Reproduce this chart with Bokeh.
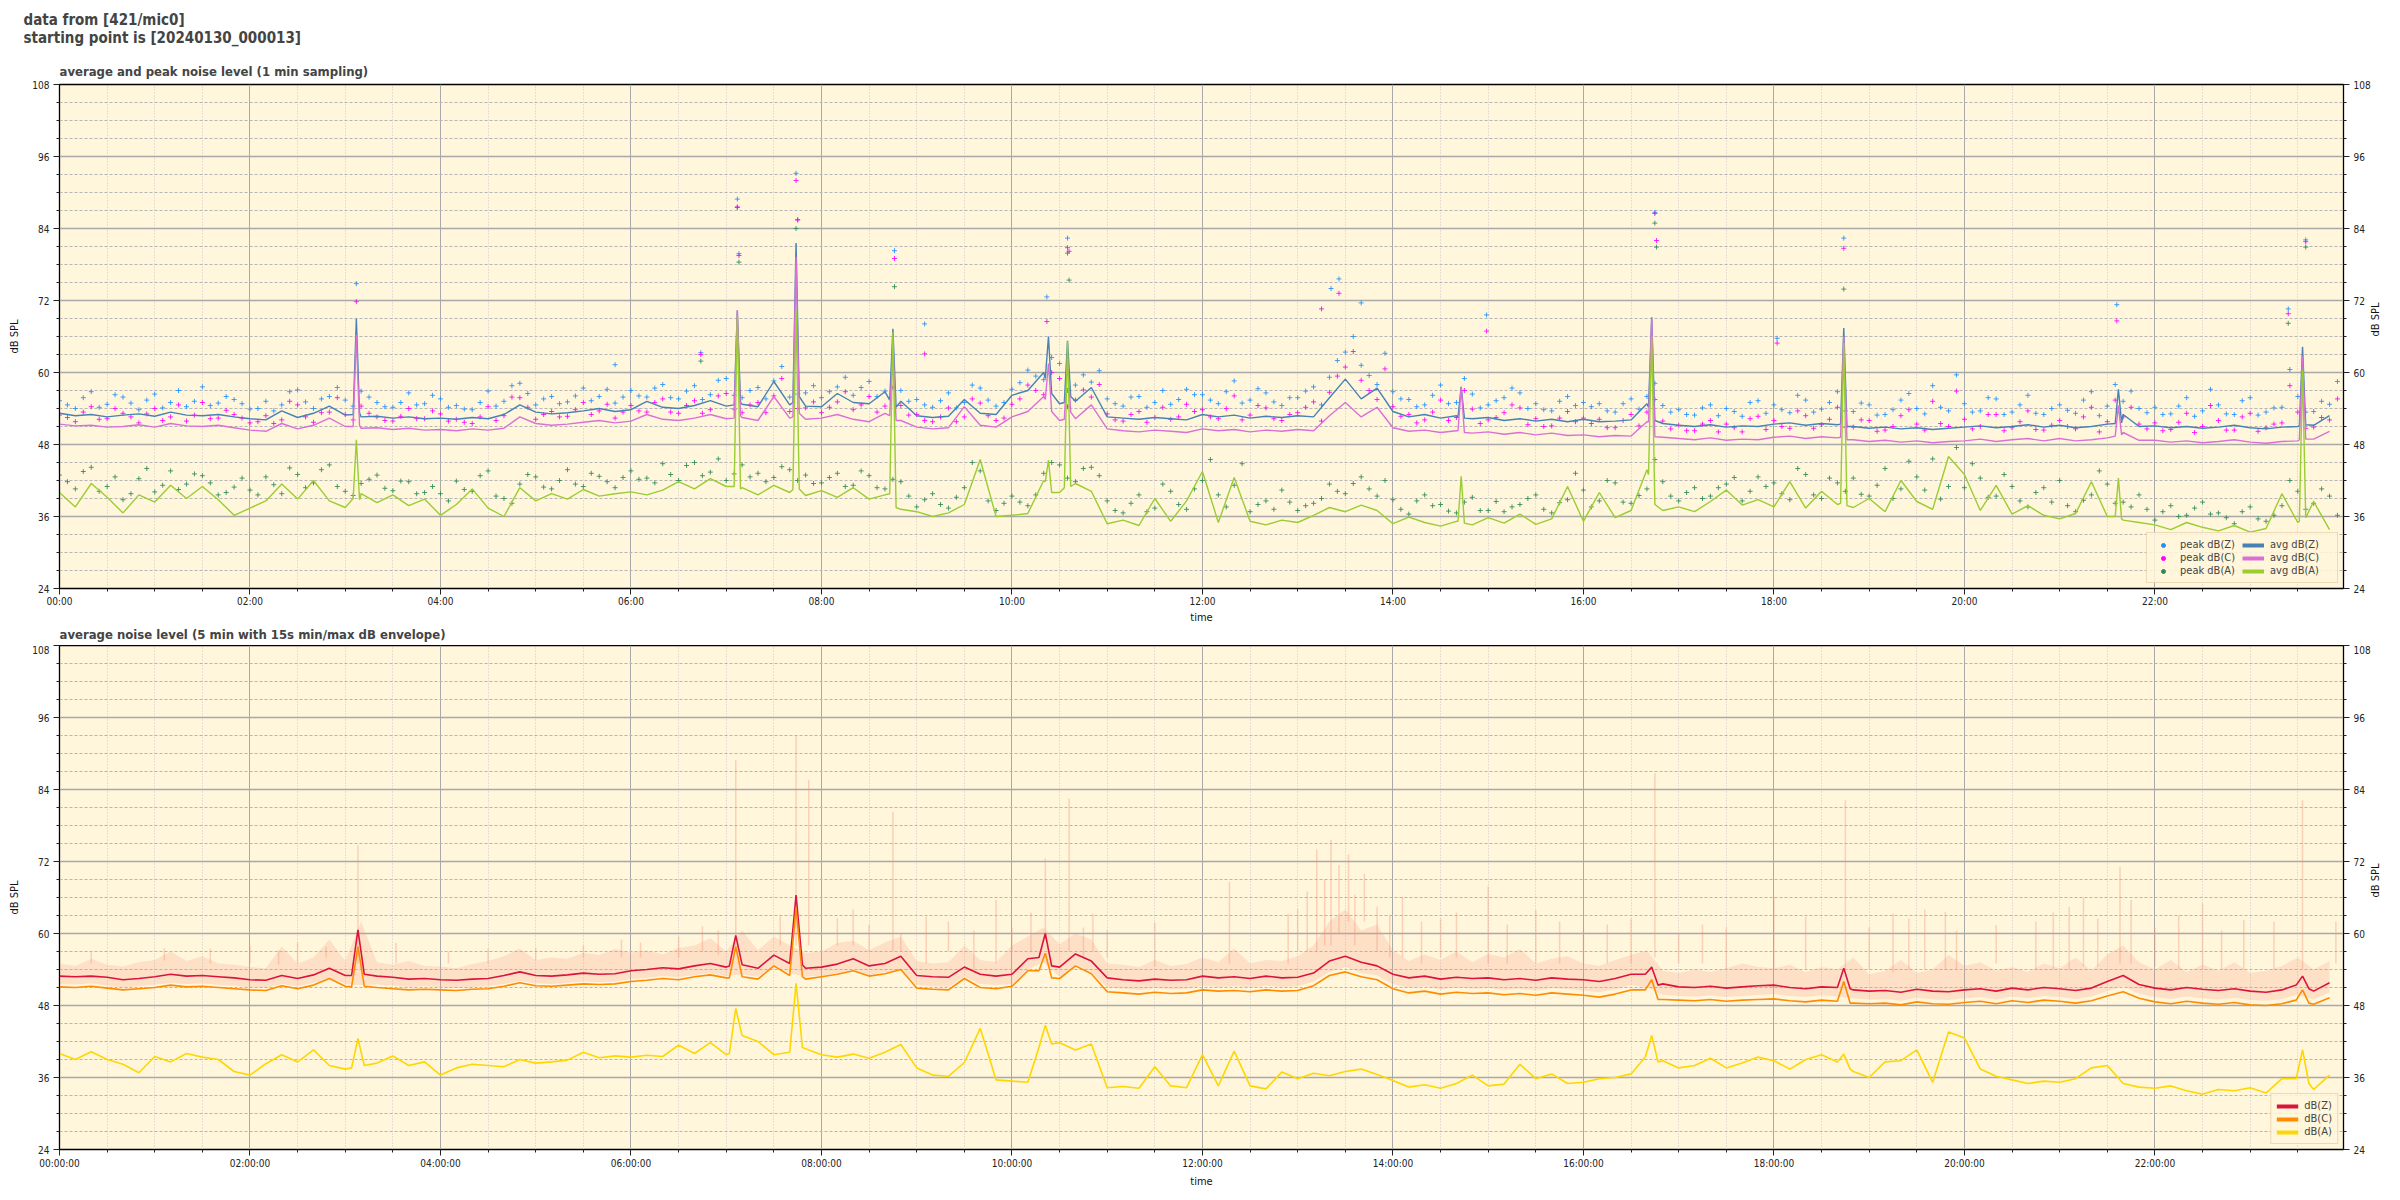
import math
from bokeh.plotting import figure
from bokeh.models import Range1d, FixedTicker, LinearAxis, Legend, LegendItem, Title
from bokeh.layouts import column
from bokeh.embed import file_html
from bokeh.resources import INLINE

# ---------------- data ----------------
title_main = "data from [421/mic0]\nstarting point is [20240130_000013]"
title_top = "average and peak noise level (1 min sampling)"
title_bot = "average noise level (5 min with 15s min/max dB envelope)"

x_major = [0, 2, 4, 6, 8, 10, 12, 14, 16, 18, 20, 22]
x_minor = [h / 2 for h in range(0, 48)]
x_labels_top = ["00:00", "02:00", "04:00", "06:00", "08:00", "10:00",
                "12:00", "14:00", "16:00", "18:00", "20:00", "22:00"]
x_labels_bot = ["00:00:00", "02:00:00", "04:00:00", "06:00:00", "08:00:00", "10:00:00",
                "12:00:00", "14:00:00", "16:00:00", "18:00:00", "20:00:00", "22:00:00"]
y_major = [24, 36, 48, 60, 72, 84, 96, 108]
y_minor = list(range(24, 109, 3))

# sampling times (minutes after start)
grid_min = list(range(0, 1440, 10))
peak_min = list(range(5, 1440, 10))

# top: 1-min averages (read every 10 min)
avg_z = [53.2, 52.8, 53.0, 52.6, 52.9, 53.1, 52.7, 53.4, 52.9, 52.8, 53.0, 52.6,
         52.3, 52.1, 53.6, 52.5, 53.2, 54.4, 52.9, 52.6, 52.7, 52.4, 52.6, 52.3,
         52.4, 52.2, 52.5, 52.3, 53.0, 54.6, 53.4, 53.1, 53.3, 53.6, 54.0, 53.5,
         53.8, 55.2, 54.2, 54.0, 54.5, 55.3, 54.4, 54.7, 54.3, 58.5, 54.6, 54.4,
         54.3, 56.5, 55.0, 54.8, 56.8, 55.2, 52.8, 52.5, 52.7, 55.5, 53.2, 53.0,
         56.2, 57.0, 60.0, 54.8, 55.2, 57.5, 52.6, 52.4, 52.2, 52.5, 52.3, 52.1,
         53.0, 52.6, 52.9, 52.4, 52.7, 52.5, 52.8, 52.6, 55.8, 58.9, 55.6, 57.4,
         53.5, 52.6, 53.0, 52.4, 52.8, 52.3, 52.5, 52.0, 52.3, 51.9, 52.2, 51.8,
         52.2, 51.8, 51.9, 52.1, 54.8, 51.5, 51.2, 51.0, 51.3, 50.9, 51.1, 51.0,
         51.4, 51.6, 51.2, 51.5, 51.3, 51.0, 50.7, 50.9, 50.6, 50.8, 50.5, 50.7,
         50.9, 51.1, 50.8, 51.0, 51.3, 50.9, 51.2, 50.8, 51.0, 51.4, 53.0, 51.0,
         51.1, 50.8, 51.0, 50.7, 50.9, 51.2, 50.8, 50.6, 50.9, 51.0, 51.2, 52.8]
avg_c = [51.4, 51.1, 51.2, 50.9, 51.0, 51.3, 50.9, 51.5, 51.1, 51.0, 51.2, 50.8,
         50.4, 50.2, 51.5, 50.6, 51.2, 52.4, 51.0, 50.7, 50.8, 50.5, 50.7, 50.4,
         50.5, 50.3, 50.6, 50.4, 50.7, 52.6, 51.5, 51.2, 51.4, 51.7, 52.0, 51.6,
         51.9, 53.0, 52.2, 52.0, 52.4, 53.0, 52.3, 52.5, 52.0, 56.0, 52.4, 52.2,
         52.4, 53.0, 52.2, 51.8, 53.2, 52.0, 50.9, 50.6, 50.8, 54.3, 51.2, 50.9,
         52.6, 53.5, 56.0, 52.0, 52.3, 54.6, 50.6, 50.3, 50.1, 50.4, 50.2, 50.0,
         50.6, 50.3, 50.5, 50.1, 50.4, 50.2, 50.5, 50.3, 52.8, 55.0, 52.6, 54.2,
         50.8, 50.2, 50.4, 50.0, 50.3, 49.9, 50.1, 49.7, 50.0, 49.6, 49.9, 49.5,
         49.6, 49.3, 49.5, 49.4, 51.8, 49.2, 49.0, 48.8, 49.1, 48.7, 48.9, 48.8,
         49.2, 49.4, 49.0, 49.3, 49.1, 48.8, 48.5, 48.7, 48.4, 48.6, 48.3, 48.5,
         48.6, 48.9, 48.5, 48.8, 49.0, 48.6, 49.0, 48.6, 48.8, 49.1, 50.0, 48.7,
         48.7, 48.4, 48.6, 48.3, 48.5, 48.8, 48.4, 48.2, 48.5, 48.6, 48.9, 50.2]
avg_a = [40.0, 37.6, 41.5, 39.2, 36.6, 39.6, 38.4, 41.2, 39.0, 41.0, 38.8, 36.2,
         37.4, 38.6, 41.4, 38.9, 42.0, 38.6, 37.5, 39.8, 38.3, 39.6, 37.8, 38.9,
         36.2, 38.0, 40.6, 37.4, 36.0, 40.8, 38.6, 39.8, 38.9, 40.5, 39.4, 39.8,
         40.1, 39.6, 40.4, 41.8, 40.6, 42.3, 41.0, 40.8, 39.6, 41.2, 40.0, 39.5,
         40.3, 39.2, 40.8, 38.9, 39.6, 37.2, 36.8, 36.0, 36.6, 38.0, 45.5, 36.0,
         36.2, 36.5, 42.0, 40.0, 41.5, 40.2, 34.8, 35.4, 34.5, 39.0, 35.2, 38.6,
         43.5, 35.0, 42.5, 35.2, 34.6, 35.4, 35.0, 36.2, 37.5, 36.8, 37.9, 37.0,
         34.8, 35.9, 35.0, 34.4, 35.2, 34.6, 35.8, 34.9, 36.4, 34.7, 35.6, 41.0,
         35.2, 40.0, 35.8, 37.0, 43.8, 37.0, 37.6, 36.8, 38.5, 40.4, 37.9, 38.8,
         37.6, 41.8, 37.4, 40.2, 38.0, 37.5, 39.0, 36.8, 42.0, 38.5, 37.2, 46.0,
         43.0, 37.0, 41.2, 36.4, 37.8, 36.2, 35.6, 36.5, 41.8, 36.0, 35.4, 35.0,
         34.6, 33.8, 35.0, 34.2, 33.6, 34.5, 33.4, 34.0, 39.8, 35.0, 38.5, 33.8]

# top: short events (before, peak, after)
spk_min = [185, 187, 189, 425, 427, 429, 462, 464, 466, 523, 525, 527,
           621, 623, 625, 633, 635, 637, 881, 883, 885, 1001, 1003, 1005,
           1122, 1124, 1126, 1295, 1297, 1299, 1411, 1413, 1415]
spk_z = [53.0, 69.0, 53.3, 54.6, 70.3, 55.0, 55.0, 81.6, 56.0, 55.4, 67.3, 54.2,
         59.0, 66.0, 56.5, 55.0, 65.3, 56.0, 52.6, 57.6, 52.4, 54.2, 69.2, 52.0,
         51.4, 67.4, 51.0, 51.5, 57.2, 51.6, 51.1, 64.3, 51.3]
spk_c = [51.0, 66.3, 51.2, 52.4, 70.4, 52.8, 52.6, 79.3, 53.2, 52.8, 64.3, 52.0,
         55.5, 61.5, 53.5, 52.2, 62.4, 53.4, 50.3, 57.6, 50.0, 51.8, 69.0, 49.3,
         49.2, 66.0, 48.8, 49.4, 54.5, 49.6, 48.8, 62.7, 48.9]
spk_a = [39.0, 48.8, 38.8, 41.0, 69.5, 40.6, 40.5, 70.4, 40.6, 39.8, 66.7, 37.5,
         41.8, 45.4, 40.0, 40.8, 65.2, 41.0, 35.2, 42.7, 34.9, 43.0, 66.0, 38.0,
         38.2, 64.9, 37.8, 36.0, 42.4, 35.6, 35.2, 60.4, 35.8]

# top: 1-min peaks (read every 5 min: first set at :05, second set at :00)
peak_z = [54.6, 55.8, 54.2, 56.3, 54.9, 55.4, 54.1, 57.0, 55.2, 54.5, 56.0, 54.8,
          54.0, 53.6, 56.8, 55.1, 55.6, 57.5, 54.4, 55.9, 54.3, 55.0, 54.6, 56.2,
          54.2, 53.9, 55.0, 54.4, 57.8, 56.5, 55.6, 54.8, 56.1, 55.3, 57.2, 55.9,
          56.1, 57.4, 55.8, 56.9, 55.5, 58.7, 56.2, 57.0, 55.6, 61.0, 56.4, 57.8,
          56.8, 59.2, 57.5, 56.0, 60.0, 55.2, 54.6, 55.3, 54.1, 57.9, 55.4, 55.0,
          58.3, 59.4, 62.5, 57.0, 59.6, 60.3, 54.8, 55.9, 54.2, 57.0, 55.5, 56.3,
          55.4, 56.8, 54.9, 57.3, 55.1, 55.8, 56.9, 54.6, 62.0, 66.0, 59.5, 63.2,
          55.6, 54.3, 56.2, 54.8, 59.0, 54.1, 55.3, 57.4, 54.0, 53.8, 55.2, 54.5,
          54.3, 53.6, 54.8, 53.9, 58.2, 53.4, 53.0, 54.1, 52.8, 53.5, 55.0, 53.2,
          53.8, 56.2, 53.4, 55.0, 53.6, 54.9, 52.9, 53.8, 56.5, 53.1, 54.2, 59.6,
          53.4, 55.8, 53.0, 54.6, 53.2, 54.0, 53.7, 55.4, 52.8, 58.0, 56.9, 53.3,
          53.0, 54.4, 52.7, 57.2, 53.1, 55.3, 52.9, 54.1, 60.5, 53.4, 55.2, 58.5]
peak_c = [52.5, 53.4, 52.2, 54.0, 52.6, 53.1, 52.0, 54.6, 52.9, 52.3, 53.7, 52.4,
          51.8, 51.5, 55.2, 52.6, 53.3, 55.8, 52.1, 53.2, 52.0, 52.7, 52.3, 53.6,
          51.9, 51.7, 52.6, 52.0, 55.9, 54.2, 53.0, 52.6, 53.8, 53.0, 54.7, 53.4,
          53.6, 55.0, 53.4, 54.5, 53.2, 56.1, 53.9, 54.6, 53.3, 59.0, 54.0, 55.1,
          54.2, 56.8, 54.6, 53.4, 57.5, 52.9, 52.0, 52.6, 51.8, 55.6, 52.8, 52.4,
          55.6, 57.0, 60.0, 54.3, 57.1, 58.0, 52.1, 53.0, 51.7, 54.2, 52.6, 53.5,
          52.6, 54.0, 52.1, 54.5, 52.3, 53.0, 54.2, 51.9, 59.4, 63.5, 57.0, 60.6,
          52.7, 51.6, 53.4, 52.0, 57.0, 51.5, 52.5, 54.6, 51.3, 51.0, 52.4, 51.8,
          51.5, 50.8, 52.0, 51.1, 55.5, 50.6, 50.3, 51.4, 50.1, 50.8, 52.3, 50.5,
          51.0, 53.6, 50.7, 52.2, 50.9, 52.1, 50.2, 51.0, 53.8, 50.4, 51.5, 56.9,
          50.6, 53.0, 50.3, 51.8, 50.5, 51.2, 51.0, 52.6, 50.1, 55.4, 54.2, 50.6,
          50.3, 51.7, 50.0, 54.5, 50.4, 52.6, 50.2, 51.4, 57.8, 50.7, 52.5, 55.6]
peak_a = [41.8, 43.5, 40.2, 42.6, 39.8, 44.0, 41.2, 40.5, 43.1, 41.6, 40.0, 42.4,
          39.6, 41.3, 44.1, 40.8, 43.8, 41.0, 39.5, 42.2, 40.7, 41.9, 39.8, 41.0,
          38.6, 40.5, 42.8, 39.4, 38.2, 43.0, 40.9, 42.0, 41.4, 43.2, 41.8, 42.5,
          42.2, 41.6, 43.0, 44.5, 42.8, 45.6, 43.1, 42.6, 41.8, 44.3, 42.0, 41.5,
          42.5, 41.0, 43.6, 40.8, 42.2, 39.4, 38.8, 38.0, 39.2, 45.0, 38.6, 38.2,
          38.4, 39.6, 45.0, 42.4, 44.0, 42.8, 37.0, 38.2, 36.8, 41.4, 38.0, 40.6,
          45.5, 37.6, 44.8, 38.0, 37.2, 38.4, 37.8, 39.0, 40.2, 41.5, 40.6, 42.0,
          37.2, 38.6, 37.8, 36.9, 38.4, 37.0, 38.5, 37.6, 39.0, 37.2, 38.3, 43.2,
          37.6, 42.0, 38.4, 39.5, 45.5, 39.4, 40.0, 39.0, 40.8, 42.5, 40.2, 41.0,
          39.8, 44.0, 39.6, 42.4, 40.2, 39.7, 41.2, 39.0, 45.2, 40.4, 38.9, 47.5,
          44.8, 39.2, 43.0, 38.6, 40.0, 38.4, 37.8, 38.7, 43.6, 38.2, 37.6, 37.2,
          36.8, 36.0, 37.4, 36.4, 35.8, 36.8, 35.6, 36.2, 42.0, 37.2, 40.6, 36.2]
peak_z2 = [55.3, 54.0, 56.8, 54.7, 55.9, 53.8, 56.4, 55.0, 54.3, 57.6, 54.9, 55.5,
           53.9, 55.2, 54.6, 57.1, 54.0, 56.0, 55.4, 56.9, 55.0, 54.2, 56.6, 54.8,
           55.6, 54.5, 53.8, 56.9, 55.2, 58.2, 54.6, 56.0, 55.1, 57.4, 56.0, 54.9,
           57.0, 55.9, 58.0, 55.6, 57.8, 56.3, 59.0, 55.8, 57.5, 58.6, 55.9, 56.6,
           55.8, 57.6, 56.2, 58.5, 56.9, 57.0, 55.5, 54.2, 56.6, 55.0, 57.4, 54.4,
           57.2, 60.4, 58.8, 61.5, 57.9, 58.4, 55.6, 54.4, 56.0, 55.0, 54.7, 57.2,
           56.3, 54.8, 58.6, 55.4, 56.6, 54.5, 55.8, 57.6, 59.2, 63.4, 61.2, 58.0,
           56.8, 55.5, 54.6, 57.9, 55.0, 56.4, 54.6, 55.8, 56.6, 54.8, 53.6, 56.0,
           55.0, 54.8, 53.4, 55.6, 56.0, 54.5, 53.8, 52.9, 54.6, 54.0, 52.7, 55.3,
           54.6, 53.3, 55.4, 53.9, 56.8, 53.5, 54.6, 53.0, 55.4, 54.0, 57.8, 53.6,
           54.8, 53.6, 55.6, 53.4, 56.2, 53.0, 54.6, 53.2, 56.8, 54.4, 55.2, 54.0,
           54.2, 53.1, 55.8, 53.6, 54.6, 53.0, 55.8, 53.4, 54.2, 56.0, 53.5, 54.7]
peak_c2 = [52.9, 51.8, 54.3, 52.3, 53.2, 51.6, 54.0, 52.6, 51.9, 55.0, 52.4, 53.0,
           51.6, 52.8, 52.1, 54.6, 51.7, 53.4, 53.0, 54.4, 52.6, 51.9, 54.0, 52.3,
           53.1, 52.2, 51.5, 54.3, 52.8, 55.8, 52.2, 53.5, 52.7, 55.0, 53.6, 52.4,
           54.5, 53.4, 55.6, 53.2, 55.3, 53.8, 56.5, 53.3, 55.0, 56.1, 53.5, 54.1,
           53.3, 55.1, 53.8, 56.0, 54.4, 54.5, 53.0, 51.8, 54.1, 52.6, 54.9, 52.0,
           54.7, 57.9, 56.3, 59.0, 55.4, 55.9, 53.1, 51.9, 53.5, 52.5, 52.2, 54.7,
           53.8, 52.3, 56.1, 52.9, 54.1, 52.0, 53.3, 55.1, 56.7, 60.9, 58.7, 55.5,
           54.3, 53.0, 52.1, 55.4, 52.5, 53.9, 52.1, 53.3, 54.1, 52.3, 51.1, 53.5,
           52.4, 52.2, 50.8, 53.0, 53.4, 51.9, 51.2, 50.3, 52.0, 51.4, 50.1, 52.7,
           52.0, 50.7, 52.8, 51.3, 54.2, 50.9, 52.0, 50.4, 52.8, 51.4, 55.2, 51.0,
           52.2, 51.0, 53.0, 50.8, 53.6, 50.4, 52.0, 50.6, 54.2, 51.8, 52.6, 51.4,
           51.6, 50.5, 53.2, 51.0, 52.0, 50.4, 53.2, 50.8, 51.6, 53.4, 50.9, 52.1]
peak_a2 = [42.9, 40.6, 44.2, 41.0, 38.8, 42.3, 40.1, 43.6, 41.4, 42.8, 39.6, 40.9,
           40.4, 42.6, 39.8, 43.0, 41.6, 44.6, 40.2, 41.5, 42.9, 40.3, 41.8, 40.0,
           39.8, 41.9, 40.2, 43.6, 39.0, 41.4, 42.6, 40.6, 43.8, 41.0, 42.7, 40.8,
           43.6, 42.4, 44.8, 42.0, 45.0, 43.4, 42.0, 44.6, 43.2, 42.5, 43.8, 42.9,
           41.6, 43.2, 41.2, 42.8, 40.6, 41.8, 37.6, 39.8, 37.4, 40.8, 43.6, 37.0,
           39.4, 37.8, 43.2, 44.6, 41.8, 44.2, 38.6, 36.6, 39.6, 37.4, 40.2, 37.2,
           42.0, 39.6, 41.2, 36.8, 38.6, 40.4, 37.0, 38.2, 41.4, 39.8, 42.6, 39.4,
           38.8, 36.4, 39.6, 38.0, 36.6, 39.2, 37.0, 36.8, 38.0, 39.6, 36.6, 38.8,
           40.4, 38.6, 41.6, 38.2, 40.6, 41.8, 38.6, 40.8, 39.4, 41.4, 38.6, 42.6,
           41.6, 38.8, 43.0, 39.0, 41.6, 42.4, 39.4, 44.0, 40.6, 42.6, 45.6, 41.0,
           40.8, 42.4, 39.4, 41.0, 37.6, 40.8, 42.0, 36.8, 39.6, 41.4, 38.4, 39.6,
           35.4, 37.8, 36.2, 38.4, 36.6, 34.8, 37.6, 35.2, 37.8, 40.2, 38.2, 39.4]

# top: isolated high peaks
out_z_min = [187, 350, 404, 427, 428, 464, 465, 526, 545, 622, 635, 801, 806, 820,
             899, 1005, 1082, 1124, 1296, 1404, 1415]
out_z = [74.8, 61.3, 63.3, 88.9, 79.8, 93.2, 85.5, 80.3, 68.1, 72.6, 82.4, 74.0, 75.6, 71.6,
         69.6, 86.7, 65.7, 82.4, 71.3, 70.6, 82.1]
out_c_min = [187, 404, 427, 428, 464, 465, 526, 545, 622, 635, 636, 795, 806, 899,
             1005, 1006, 1082, 1124, 1296, 1404, 1415]
out_c = [71.8, 63.0, 87.6, 79.5, 92.0, 85.4, 79.0, 63.1, 68.5, 80.8, 80.2, 70.6, 73.2, 66.9,
         86.5, 82.0, 64.9, 80.7, 68.6, 69.8, 81.8]
out_a_min = [404, 427, 428, 464, 526, 635, 636, 1005, 1006, 1124, 1404, 1415]
out_a = [61.9, 87.5, 78.4, 84.0, 74.3, 79.9, 75.4, 84.9, 80.9, 73.9, 68.2, 80.9]

# bottom: 5-min averages (read every 10 min)
bot_z = [52.9, 52.8, 52.9, 52.7, 52.3, 52.5, 52.8, 53.2, 52.9, 53.0, 52.8, 52.6,
         52.3, 52.2, 53.0, 52.5, 53.1, 54.2, 53.0, 52.8, 52.9, 52.7, 52.4, 52.5,
         52.3, 52.2, 52.4, 52.5, 53.0, 53.6, 53.0, 52.9, 53.1, 53.4, 53.2, 53.3,
         53.8, 54.0, 54.3, 54.1, 54.6, 55.0, 54.4, 54.8, 54.2, 56.4, 55.0, 54.2,
         54.4, 54.9, 55.8, 54.6, 55.0, 56.2, 53.0, 52.8, 52.7, 54.4, 53.2, 52.9,
         53.2, 55.8, 57.0, 54.4, 56.6, 55.4, 52.6, 52.3, 52.1, 52.4, 52.2, 52.3,
         52.9, 52.6, 52.8, 52.5, 52.9, 52.6, 52.7, 53.4, 55.4, 56.2, 55.2, 54.6,
         53.2, 52.6, 52.9, 52.4, 52.7, 52.5, 52.6, 52.3, 52.5, 52.2, 52.6, 52.4,
         52.3, 52.0, 52.5, 53.2, 52.8, 51.6, 51.1, 51.0, 51.2, 50.9, 51.1, 51.3,
         51.4, 51.0, 50.8, 51.1, 50.9, 50.6, 50.4, 50.5, 50.2, 50.7, 50.4, 50.3,
         50.6, 50.8, 50.4, 50.9, 50.6, 51.0, 50.8, 50.5, 50.9, 52.0, 53.0, 51.5,
         50.9, 50.6, 51.0, 50.7, 50.5, 50.8, 50.4, 50.2, 50.6, 51.5, 50.4, 51.8]
bot_c = [51.1, 51.0, 51.2, 50.9, 50.6, 50.8, 51.0, 51.4, 51.1, 51.2, 51.0, 50.8,
         50.6, 50.5, 51.3, 50.8, 51.4, 52.5, 51.2, 51.0, 51.0, 50.8, 50.6, 50.7,
         50.6, 50.5, 50.7, 50.8, 51.2, 51.8, 51.3, 51.2, 51.4, 51.6, 51.5, 51.6,
         52.0, 52.2, 52.5, 52.3, 52.8, 53.1, 52.6, 52.9, 52.4, 54.6, 53.1, 52.4,
         52.8, 53.2, 53.8, 52.9, 53.3, 54.0, 50.9, 50.7, 50.6, 52.5, 51.0, 50.8,
         51.2, 53.8, 55.2, 52.5, 54.6, 53.3, 50.3, 50.1, 49.9, 50.2, 50.0, 50.1,
         50.6, 50.4, 50.5, 50.3, 50.6, 50.4, 50.5, 51.3, 53.0, 53.6, 52.8, 52.3,
         50.8, 50.1, 50.4, 49.9, 50.2, 50.0, 50.1, 49.8, 50.0, 49.7, 50.1, 49.9,
         49.7, 49.4, 49.9, 50.6, 50.3, 49.0, 48.9, 48.8, 49.0, 48.7, 48.9, 49.0,
         49.1, 48.8, 48.6, 48.9, 48.7, 48.4, 48.3, 48.4, 48.1, 48.6, 48.3, 48.2,
         48.5, 48.7, 48.3, 48.8, 48.5, 48.9, 48.7, 48.4, 48.8, 49.6, 50.3, 49.2,
         48.6, 48.3, 48.7, 48.4, 48.2, 48.5, 48.1, 48.0, 48.3, 48.9, 48.2, 49.3]
bot_a = [40.0, 39.0, 40.3, 39.0, 38.2, 36.8, 39.5, 38.6, 40.0, 39.4, 39.0, 37.0,
         36.4, 38.3, 39.8, 38.6, 40.6, 38.0, 37.4, 42.2, 38.4, 39.6, 38.0, 38.6,
         36.4, 37.6, 38.2, 38.0, 37.8, 39.0, 38.4, 38.6, 38.9, 40.2, 39.3, 39.6,
         39.4, 39.7, 39.5, 41.4, 40.0, 41.8, 39.8, 42.4, 42.0, 39.8, 40.2, 40.8,
         39.8, 39.4, 39.9, 39.2, 40.2, 41.5, 37.6, 36.4, 36.2, 38.5, 44.2, 35.6,
         35.4, 35.2, 41.0, 41.8, 40.6, 41.6, 34.3, 34.5, 34.2, 37.8, 34.6, 34.3,
         39.8, 34.6, 40.4, 34.6, 34.1, 36.9, 35.8, 36.7, 36.3, 37.0, 37.4, 36.5,
         35.5, 34.4, 34.8, 34.2, 35.0, 36.4, 34.6, 34.9, 38.2, 35.8, 36.6, 35.0,
         35.2, 35.8, 36.0, 36.6, 42.6, 38.8, 37.6, 38.0, 39.2, 37.6, 38.4, 39.4,
         38.8, 37.4, 39.0, 39.8, 38.6, 37.0, 36.0, 38.6, 38.8, 40.6, 35.2, 43.6,
         42.6, 37.4, 36.2, 35.6, 35.0, 35.4, 35.2, 35.8, 37.6, 38.0, 35.0, 34.4,
         34.2, 34.6, 33.8, 33.2, 34.0, 33.8, 34.3, 33.4, 35.8, 38.8, 34.0, 36.4]

bspk_min = [184, 188, 192, 422, 426, 430, 460, 464, 468, 617, 621, 625,
            999, 1003, 1007, 1120, 1124, 1128, 1409, 1413, 1417]
bspk_z = [53.0, 60.6, 53.2, 54.6, 59.7, 54.8, 55.0, 66.4, 54.8, 56.0, 60.0, 54.6,
          53.2, 54.4, 51.4, 51.0, 54.2, 50.8, 51.4, 52.9, 50.8]
bspk_c = [51.1, 57.8, 51.2, 52.6, 57.8, 52.8, 53.0, 64.2, 52.8, 53.8, 56.7, 52.6,
          50.6, 52.3, 49.0, 48.7, 52.0, 48.4, 48.9, 50.6, 48.4]
bspk_a = [37.6, 42.5, 38.0, 40.0, 47.5, 43.0, 40.2, 51.7, 41.0, 41.0, 44.7, 41.6,
          39.4, 43.0, 38.6, 38.6, 39.9, 37.4, 35.8, 40.6, 35.0]

# bottom: 15 s min/max envelope (read every 10 min)
env_hi = [55.0, 54.6, 55.8, 54.8, 54.5, 55.2, 55.6, 57.0, 55.4, 56.2, 55.0, 54.8,
          54.4, 54.2, 57.8, 55.0, 56.0, 59.0, 55.4, 62.0, 55.2, 54.8, 55.4, 54.6,
          54.5, 54.2, 54.9, 55.4, 56.2, 57.5, 55.6, 56.0, 55.8, 56.8, 56.4, 57.4,
          56.8, 57.2, 56.5, 57.6, 58.0, 59.2, 57.0, 60.5, 57.2, 59.5, 58.0, 56.8,
          57.0, 58.4, 58.8, 57.2, 58.5, 59.5, 55.4, 55.0, 55.2, 58.0, 55.6, 55.2,
          58.0, 59.5, 61.0, 58.2, 60.0, 59.0, 55.0, 54.8, 54.4, 55.6, 54.6, 54.9,
          56.0, 55.2, 57.5, 55.0, 55.6, 55.4, 56.2, 58.0, 62.0, 64.0, 60.5, 61.5,
          57.2, 55.4, 56.5, 55.6, 57.0, 55.2, 56.6, 56.0, 57.4, 55.0, 55.8, 56.2,
          55.0, 54.6, 55.6, 56.4, 57.2, 53.8, 53.4, 54.0, 53.6, 54.2, 55.0, 54.4,
          54.2, 54.8, 53.6, 54.4, 54.0, 56.0, 53.2, 53.8, 55.6, 53.4, 54.0, 56.4,
          54.6, 55.2, 53.8, 54.4, 53.6, 55.0, 54.2, 56.0, 53.8, 56.5, 58.0, 55.2,
          54.0, 55.6, 53.6, 54.8, 53.8, 55.2, 53.4, 53.8, 54.6, 56.0, 54.0, 55.4]
env_lo = [51.6, 51.5, 51.7, 51.3, 51.0, 51.2, 51.5, 51.8, 51.6, 51.7, 51.4, 51.3,
          51.0, 50.9, 51.6, 51.2, 51.8, 52.6, 51.6, 51.4, 51.5, 51.3, 51.1, 51.2,
          51.0, 50.9, 51.1, 51.2, 51.6, 52.1, 51.7, 51.6, 51.8, 52.0, 51.9, 52.0,
          52.4, 52.6, 52.9, 52.7, 53.1, 53.4, 52.9, 53.2, 52.8, 54.6, 53.4, 52.8,
          53.0, 53.4, 54.0, 53.1, 53.6, 54.0, 51.4, 51.2, 51.1, 52.8, 51.6, 51.4,
          51.6, 54.0, 55.2, 52.8, 54.8, 53.6, 51.0, 50.8, 50.6, 50.9, 50.7, 50.8,
          51.3, 51.1, 51.2, 51.0, 51.3, 51.1, 51.2, 52.0, 53.6, 54.4, 53.4, 53.0,
          51.6, 50.9, 51.2, 50.7, 51.0, 50.8, 50.9, 50.6, 50.8, 50.5, 50.9, 50.7,
          50.5, 50.2, 50.7, 51.4, 51.0, 49.8, 49.6, 49.5, 49.7, 49.4, 49.6, 49.8,
          49.9, 49.6, 49.4, 49.7, 49.5, 49.2, 49.0, 49.1, 48.8, 49.3, 49.0, 48.9,
          49.2, 49.4, 49.0, 49.5, 49.2, 49.6, 49.4, 49.1, 49.5, 50.4, 51.2, 50.0,
          49.4, 49.1, 49.5, 49.2, 49.0, 49.3, 48.9, 48.8, 49.1, 49.8, 49.0, 50.2]
env_sp_min = [66, 120, 138, 168, 188, 212, 300, 354, 366, 405, 426, 454, 464, 472, 490,
              500, 525, 546, 576, 590, 621, 636, 651, 690, 737, 774, 792, 801, 806, 812,
              822, 846, 858, 900, 930, 990, 1005, 1050, 1080, 1100, 1125, 1155, 1188, 1220,
              1266, 1298, 1305, 1350, 1376, 1413, 1434,
              20, 95, 150, 245, 270, 330, 390, 415, 510, 530, 560, 600, 612, 645, 660,
              780, 786, 797, 816, 830, 838, 870, 880, 912, 945, 960, 975, 1020, 1035,
              1140, 1165, 1175, 1195, 1245, 1256, 1275, 1284, 1320, 1335, 1362, 1395]
env_sp_top = [57.5, 58.0, 57.2, 57.8, 74.7, 58.4, 57.6, 59.0, 58.5, 61.2, 88.9, 63.0, 93.1, 85.6, 62.5,
              64.0, 80.3, 62.8, 60.5, 65.6, 72.5, 82.5, 63.3, 61.8, 68.6, 63.3, 74.0, 75.6, 71.4, 73.2,
              70.0, 66.1, 62.0, 67.8, 63.9, 62.5, 86.7, 61.0, 66.1, 62.8, 82.2, 63.3, 63.6, 61.4,
              64.4, 71.1, 65.6, 65.0, 62.2, 82.2, 62.0,
              57.0, 57.5, 58.5, 57.0, 57.5, 58.0, 59.5, 60.5, 61.5, 60.0, 62.0, 61.0, 63.5, 61.0, 60.5,
              64.0, 67.0, 69.0, 66.5, 64.5, 63.0, 62.5, 63.5, 61.5, 62.0, 60.5, 61.5, 60.0, 61.5,
              61.0, 62.5, 64.0, 60.5, 62.0, 63.5, 66.0, 62.5, 61.0, 63.0, 60.5, 62.0]
env_sp_base = [55.5, 55.0, 54.8, 56.0, 55.0, 55.0, 55.5, 56.0, 56.0, 57.0, 57.0, 58.0, 58.0, 58.0, 58.0,
               58.0, 57.0, 55.0, 54.0, 55.0, 59.0, 57.0, 57.0, 54.5, 55.0, 55.0, 57.0, 58.0, 60.0, 62.0,
               62.0, 56.0, 55.0, 55.0, 55.0, 55.0, 56.0, 54.0, 54.0, 54.0, 54.0, 53.5, 54.0, 55.0,
               54.0, 55.0, 55.0, 54.0, 54.0, 54.0, 55.0,
               55.0, 55.0, 55.0, 55.0, 55.0, 56.0, 56.0, 56.5, 57.0, 57.0, 57.0, 57.0, 57.0, 56.0, 56.0,
               57.0, 57.0, 58.0, 58.0, 57.0, 56.0, 56.0, 56.0, 55.0, 55.0, 55.0, 55.0, 55.0, 55.0,
               54.0, 54.0, 54.0, 54.0, 54.0, 54.0, 54.5, 54.5, 54.5, 54.0, 54.0, 54.0]

# ---------------- styling ----------------
FONT = "'Liberation Sans Narrow', 'DejaVu Sans Condensed', 'DejaVu Sans', sans-serif"
BG = "#fff6dc"
W = 2400
NAN = float("nan")
C_PZ, C_PC, C_PA = "#1e90ff", "#ff00ff", "#2e8b57"
C_AZ, C_AC, C_AA = "#4682b4", "#da70d6", "#9acd32"
C_BZ, C_BC, C_BA = "#dc143c", "#ff8c00", "#ffd700"
ENV = "#f4937a"


def hours(mins):
    return [m / 60 for m in mins]


def merged(g_t, g_v, s_t, s_v):
    wins = [(s_t[i], s_t[i + 2]) for i in range(0, len(s_t), 3)]
    pts = [(t, v) for t, v in zip(g_t, g_v) if not any(a <= t <= b for a, b in wins)]
    pts += list(zip(s_t, s_v))
    pts.sort()
    return [t / 60 for t, _ in pts], [v for _, v in pts]


def make_fig(height, top, bottom, xlabels, tick_so, lab_so):
    p = figure(width=W, height=height, x_range=Range1d(0, 23.98), y_range=Range1d(24, 108),
               output_backend="svg", toolbar_location=None,
               min_border_left=59, min_border_right=57, min_border_top=top, min_border_bottom=bottom,
               background_fill_color=BG, border_fill_color="white",
               outline_line_color="black", outline_line_width=1.3)
    xt = FixedTicker(ticks=x_major, minor_ticks=x_minor)
    yt = FixedTicker(ticks=y_major, minor_ticks=y_minor)
    p.xaxis.ticker = xt
    p.yaxis.ticker = yt
    p.xgrid.ticker = xt
    p.ygrid.ticker = yt
    p.xaxis.major_label_overrides = {t: s for t, s in zip(x_major, xlabels)}
    p.xaxis.axis_label = "time"
    p.yaxis.axis_label = "dB SPL"
    ry = LinearAxis(ticker=yt, axis_label="dB SPL")
    p.add_layout(ry, "right")
    for ax in p.xaxis + p.yaxis + [ry]:
        ax.major_tick_out = 6
        ax.major_tick_in = 0
        ax.minor_tick_out = 3
        ax.minor_tick_in = 0
        ax.major_tick_line_color = "#222222"
        ax.minor_tick_line_color = "#222222"
        ax.axis_line_color = "black"
        ax.major_label_text_font = FONT
        ax.major_label_text_font_size = "10px"
        ax.major_label_text_color = "#222222"
        ax.axis_label_text_font = FONT
        ax.axis_label_text_font_size = "11px"
        ax.axis_label_text_font_style = "normal"
        ax.axis_label_text_color = "#111111"
    for ax in p.xaxis:
        ax.major_label_standoff = tick_so
        ax.axis_label_standoff = lab_so
    for ax in p.yaxis:
        ax.major_label_standoff = 4
        ax.axis_label_standoff = 8
    ry.major_label_standoff = 4
    ry.axis_label_standoff = 2
    if "axis_label_orientation" in ry.properties():
        ry.axis_label_orientation = math.pi / 2
    p.xgrid.grid_line_color = "#a9a9a9"
    p.xgrid.grid_line_width = 1
    p.ygrid.grid_line_color = "#a9a9a9"
    p.ygrid.grid_line_width = 1.4
    p.xgrid.minor_grid_line_color = "#c9c9c9"
    p.xgrid.minor_grid_line_dash = "1 2"
    p.ygrid.minor_grid_line_color = "#b5b5b5"
    p.ygrid.minor_grid_line_dash = "3 2"
    return p


def style_legend(lgd, label_width):
    lgd.label_text_font = FONT
    lgd.label_text_font_size = "11px"
    lgd.glyph_width = 22
    lgd.glyph_height = 10
    lgd.label_height = 10
    lgd.label_width = label_width
    lgd.label_standoff = 6
    lgd.spacing = 0
    lgd.padding = 5
    lgd.margin = 5
    lgd.background_fill_color = BG
    lgd.background_fill_alpha = 0.85
    lgd.border_line_color = "#d9bb8f"
    lgd.border_line_width = 1.5


# ---------------- top plot ----------------
p1 = make_fig(645, 84, 57, x_labels_top, 1, 1)
p1.title.text = title_main
p1.title.text_font = FONT
p1.title.text_font_size = "15px"
p1.title.text_font_style = "bold"
p1.title.align = "left"
p1.title.offset = -36
p1.title.vertical_align = "top"
p1.title.standoff = 16
sub1 = Title(text=title_top, align="left", offset=0, standoff=11,
             text_font=FONT, text_font_size="13px", text_font_style="bold")
p1.add_layout(sub1, "above")
sub2 = Title(text=title_bot, align="left", offset=0, standoff=0, vertical_align="top",
             text_font=FONT, text_font_size="13px", text_font_style="bold")
p1.add_layout(sub2, "below")

for t, v, c in ((peak_min, peak_z, C_PZ), (grid_min, peak_z2, C_PZ),
                (peak_min, peak_c, C_PC), (grid_min, peak_c2, C_PC),
                (peak_min, peak_a, C_PA), (grid_min, peak_a2, C_PA),
                (out_z_min, out_z, C_PZ), (out_c_min, out_c, C_PC), (out_a_min, out_a, C_PA)):
    p1.scatter(hours(t), v, marker="cross", size=5, line_width=1, color=c, alpha=0.85)
for g, s, c in ((avg_z, spk_z, C_AZ), (avg_c, spk_c, C_AC), (avg_a, spk_a, C_AA)):
    xs, ys = merged(grid_min, g, spk_min, s)
    p1.line(xs, ys, line_width=1.4, color=c)

lg = [p1.scatter([NAN], [NAN], marker="circle", size=6, color=c) for c in (C_PZ, C_PC, C_PA)]
lg += [p1.line([NAN], [NAN], line_width=4, color=c) for c in (C_AZ, C_AC, C_AA)]
names1 = ["peak dB(Z)", "peak dB(C)", "peak dB(A)", "avg dB(Z)", "avg dB(C)", "avg dB(A)"]
leg1 = Legend(items=[LegendItem(label=n, renderers=[r]) for n, r in zip(names1, lg)],
              location="bottom_right", ncols=2)
style_legend(leg1, 62)
p1.add_layout(leg1)

# ---------------- bottom plot ----------------
p2 = make_fig(555, 0, 51, x_labels_bot, 2, 3)
p2.varea(x=hours(grid_min), y1=env_lo, y2=env_hi, fill_color=ENV, fill_alpha=0.22)
p2.segment(x0=hours(env_sp_min), y0=env_sp_base, x1=hours(env_sp_min), y1=env_sp_top,
           line_color=ENV, line_alpha=0.38, line_width=1.5)
for g, s, c in ((bot_z, bspk_z, C_BZ), (bot_c, bspk_c, C_BC), (bot_a, bspk_a, C_BA)):
    xs, ys = merged(grid_min, g, bspk_min, s)
    p2.line(xs, ys, line_width=1.6, color=c)
lg2 = [p2.line([NAN], [NAN], line_width=4, color=c) for c in (C_BZ, C_BC, C_BA)]
leg2 = Legend(items=[LegendItem(label=n, renderers=[r]) for n, r in zip(["dB(Z)", "dB(C)", "dB(A)"], lg2)],
              location="bottom_right")
style_legend(leg2, 20)
p2.add_layout(leg2)

layout = column(p1, p2, spacing=0)
open("out.html", "w").write(file_html(layout, INLINE))
